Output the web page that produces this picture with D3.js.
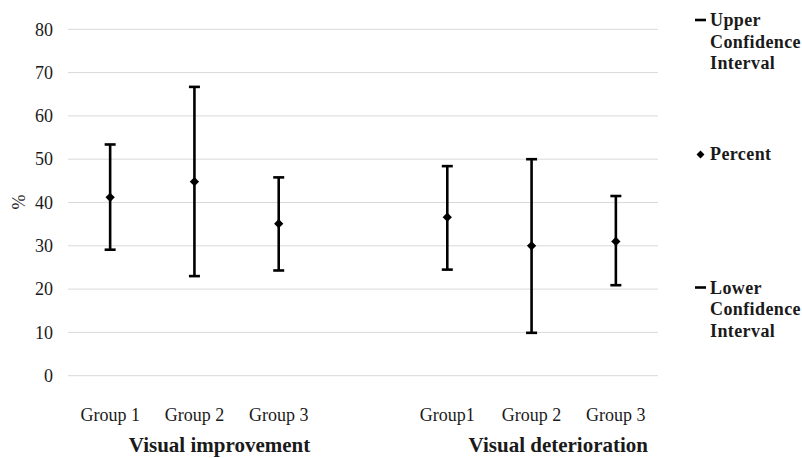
<!DOCTYPE html>
<html>
<head>
<meta charset="utf-8">
<script src="https://cdn.jsdelivr.net/npm/d3@7"></script>
<style>
  html, body { margin: 0; padding: 0; background: #fff; }
  svg { display: block; }
  text { font-family: "Liberation Serif", "Times New Roman", serif; fill: #1a1a1a; }
</style>
</head>
<body>
<svg id="chart" width="802" height="458"></svg>
<script>
// ---- data ----
const categories = ["Group 1", "Group 2", "Group 3", "Group1", "Group 2", "Group 3"];
const sectionOf = [0, 0, 0, 1, 1, 1];
const sections = ["Visual improvement", "Visual deterioration"];
const percent = [41.2, 44.8, 35.1, 36.6, 30.0, 31.0];
const upperCI = [53.4, 66.7, 45.8, 48.4, 50.0, 41.5];
const lowerCI = [29.1, 23.0, 24.3, 24.5, 9.9, 20.9];
const yTicks = [0, 10, 20, 30, 40, 50, 60, 70, 80];
const legendItems = [
  { key: "upper", lines: ["Upper", "Confidence", "Interval"] },
  { key: "percent", lines: ["Percent"] },
  { key: "lower", lines: ["Lower", "Confidence", "Interval"] }
];

// ---- layout ----
const svg = d3.select("#chart");
const plotLeft = 68, plotRight = 658, plotTop = 29.3, plotBottom = 375.7;

const slotKeys = ["s0", "s1", "s2", "gap", "s3", "s4", "s5"];
const slotOf = i => "s" + i;
const x = d3.scaleBand().domain(slotKeys).range([plotLeft, plotRight]).padding(0);
const cx = i => x(slotOf(i)) + x.bandwidth() / 2;

const y = d3.scaleLinear().domain([0, 80]).range([plotBottom, plotTop]);

// gridlines
svg.append("g").selectAll("line").data(yTicks).join("line")
  .attr("x1", plotLeft).attr("x2", plotRight)
  .attr("y1", d => y(d)).attr("y2", d => y(d))
  .attr("stroke", "#d9d9d9").attr("stroke-width", 1);

// y axis tick labels
const yAxis = d3.axisLeft(y).tickValues(yTicks).tickSize(0).tickPadding(0).tickFormat(d3.format("d"));
const ya = svg.append("g").attr("transform", "translate(53,0)").call(yAxis);
ya.attr("font-family", null);
ya.select(".domain").remove();
ya.selectAll("text").attr("font-size", 18).attr("fill", "#1a1a1a")
  .attr("font-family", "Liberation Serif, serif");

// y label
svg.append("text").attr("transform", "translate(25,202) rotate(-90)")
  .attr("text-anchor", "middle").attr("font-size", 18).text("%");

// error bars
const idx = d3.range(categories.length);
const capW = 11;
const g = svg.append("g");
g.selectAll("line.stem").data(idx).join("line").attr("class", "stem")
  .attr("x1", cx).attr("x2", cx)
  .attr("y1", i => y(upperCI[i])).attr("y2", i => y(lowerCI[i]))
  .attr("stroke", "#000").attr("stroke-width", 2.6);
g.selectAll("line.capU").data(idx).join("line").attr("class", "capU")
  .attr("x1", i => cx(i) - capW / 2).attr("x2", i => cx(i) + capW / 2)
  .attr("y1", i => y(upperCI[i])).attr("y2", i => y(upperCI[i]))
  .attr("stroke", "#000").attr("stroke-width", 2.6);
g.selectAll("line.capL").data(idx).join("line").attr("class", "capL")
  .attr("x1", i => cx(i) - capW / 2).attr("x2", i => cx(i) + capW / 2)
  .attr("y1", i => y(lowerCI[i])).attr("y2", i => y(lowerCI[i]))
  .attr("stroke", "#000").attr("stroke-width", 2.6);
const diamond = d3.symbol().type(d3.symbolDiamond2).size(55);
g.selectAll("path.pt").data(idx).join("path").attr("class", "pt")
  .attr("transform", i => `translate(${cx(i)},${y(percent[i])})`)
  .attr("d", diamond).attr("fill", "#000");

// category labels
svg.append("g").selectAll("text").data(idx).join("text")
  .attr("x", cx).attr("y", 421)
  .attr("text-anchor", "middle").attr("font-size", 18)
  .text(i => categories[i]);

// section titles
const sectionX = [219.5, 558.3];
svg.append("g").selectAll("text").data(sections).join("text")
  .attr("x", (d, k) => sectionX[k]).attr("y", 452)
  .attr("text-anchor", "middle").attr("font-size", 21).attr("font-weight", "bold")
  .text(d => d);

// legend
const legendY = { upper: 26, percent: 159.5, lower: 293.5 };
const lg = svg.append("g");
legendItems.forEach(item => {
  const by = legendY[item.key];
  if (item.key === "percent") {
    lg.append("path").attr("transform", `translate(700.5,${by - 5})`)
      .attr("d", d3.symbol().type(d3.symbolDiamond2).size(40)).attr("fill", "#000");
  } else {
    lg.append("line").attr("x1", 695).attr("x2", 706)
      .attr("y1", by - 6).attr("y2", by - 6)
      .attr("stroke", "#000").attr("stroke-width", 2.6);
  }
  const t = lg.append("text").attr("x", 710).attr("y", by)
    .attr("font-size", 18).attr("font-weight", "bold").attr("letter-spacing", 0.4);
  item.lines.forEach((ln, k) => {
    t.append("tspan").attr("x", 710).attr("y", by + k * 21.5).text(ln);
  });
});
</script>
</body>
</html>
